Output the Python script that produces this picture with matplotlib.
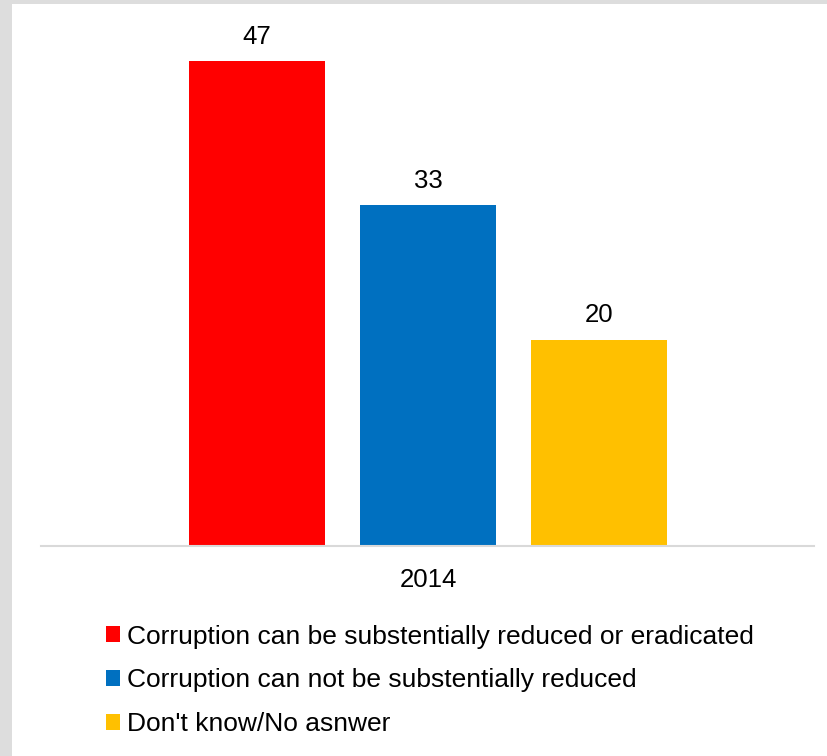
import matplotlib.pyplot as plt
from matplotlib.patches import Patch, Rectangle

plt.rcParams['font.family'] = ['Liberation Sans', 'DejaVu Sans']

year = "2014"
answers = ["Corruption can be substentially reduced or eradicated",
           "Corruption can not be substentially reduced",
           "Don't know/No asnwer"]
shares = [47, 33, 20]
colors = ["#ff0000", "#0070c0", "#ffc000"]

fig = plt.figure(figsize=(8.27, 7.56), dpi=100, facecolor="#dddddd")
# white slide panel
fig.patches.append(Rectangle((12 / 827, 0), 1, 1 - 4 / 756, transform=fig.transFigure,
                             facecolor="white", edgecolor="none", zorder=-1))

ax = fig.add_axes([41 / 827, 1 - 546 / 756, (814 - 41) / 827, (546 - 20) / 756])
ax.set_facecolor("none")

pos = [-1, 0, 1]
bars = ax.bar(pos, shares, width=0.79, color=colors, zorder=2)
for b, v in zip(bars, shares):
    ax.annotate(str(v), (b.get_x() + b.get_width() / 2, v), xytext=(0, 9),
                textcoords="offset points", ha="center", va="bottom", fontsize=18.5)

ax.set_xlim(-2.263, 2.257)
ax.set_ylim(0, 47 * 526 / 485)
ax.set_yticks([])
ax.set_xticks([0])
ax.set_xticklabels([year], fontsize=18.5)
ax.tick_params(axis="x", length=0, pad=16)
for s in ["top", "right", "left"]:
    ax.spines[s].set_visible(False)
ax.spines["bottom"].set_color("#d9d9d9")
ax.spines["bottom"].set_linewidth(1.5)

handles = [Patch(facecolor=c, edgecolor="none") for c in colors]
fig.legend(handles, answers, loc="upper left", bbox_to_anchor=(95 / 827, 1 - 614 / 756),
           frameon=False, fontsize=19, handlelength=0.55, handleheight=0.55,
           handletextpad=0.28, labelspacing=0.75, borderaxespad=0)

fig.savefig("out.png", dpi=100, facecolor=fig.get_facecolor())
